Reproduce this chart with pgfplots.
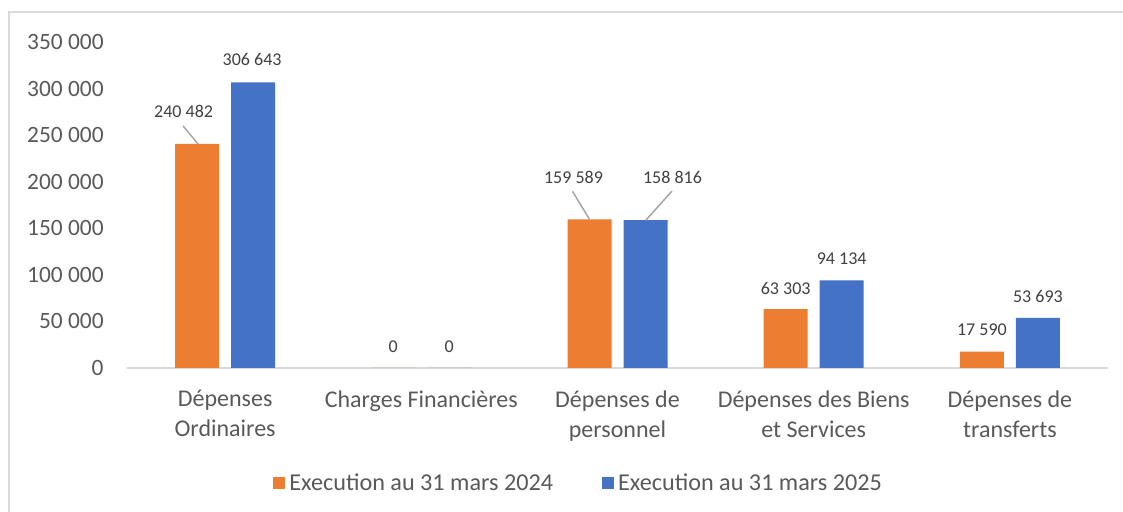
\documentclass[border=0pt]{standalone}
\usepackage{fontspec}
\setmainfont{Carlito}
\usepackage{pgfplots}
\usepackage{pgfplotstable}
\pgfplotsset{compat=1.18}
\definecolor{corange}{HTML}{ED7D31}
\definecolor{cblue}{HTML}{4472C4}
\definecolor{ctext}{HTML}{595959}
\definecolor{clabel}{HTML}{404040}
\definecolor{caxis}{HTML}{D9D9D9}
\definecolor{clead}{HTML}{A6A6A6}

% x = category index, dx/dy = label offset from category centre at bar top (pt)
\pgfplotstableread{
x y dx dy
1 240482 -20.75 16.25
2 0 -14 10.5
3 159589 -22 21.2
4 63303 -14 10.5
5 17590 -14 10.8
}\orangedata
\pgfplotstableread{
x y dx dy
1 306643 13.5 11.2
2 0 14 10.5
3 158816 27.5 21.5
4 94134 14 10.6
5 53693 14 10.5
}\bluedata

\begin{document}
\begin{tikzpicture}
\useasboundingbox (0,0) rectangle (561.5pt,256pt);
\draw[caxis,line width=1pt] (4.5pt,0) -- (4.5pt,250pt) -- (561.5pt,250pt);
\begin{axis}[at={(63.5pt,72pt)},anchor=south west,scale only axis,
  width=490.5pt,height=163pt,
  xmin=0.5,xmax=5.5,ymin=0,ymax=350000,
  xtick={1,2,3,4,5},
  xticklabels={{Dépenses\\Ordinaires},{Charges Financières},{Dépenses de\\personnel},{Dépenses des Biens\\et Services},{Dépenses de\\transferts}},
  ytick={0,50000,...,350000},
  scaled y ticks=false,
  axis lines=left,axis line style={-},
  y axis line style={draw=none},
  x axis line style={draw=caxis,line width=1pt},
  major tick length=0pt,
  /pgf/number format/assume math mode=true,
  yticklabel style={/pgf/number format/.cd,fixed,1000 sep={\ },/tikz/.cd,
    font=\fontsize{11.7}{14}\selectfont,text=ctext,inner sep=0pt,xshift=-11.5pt},
  xticklabel style={align=center,font=\fontsize{12}{15}\selectfont,text=ctext,
    inner sep=0pt,yshift=-11pt},
  legend style={at={(axis description cs:0.1488,-0.354)},anchor=west,
    draw=none,fill=none,inner sep=0pt,font=\fontsize{12.1}{14}\selectfont,text=ctext,
    /tikz/every even column/.append style={column sep=22.5pt}},
  legend columns=2,
  legend image code/.code={\fill[#1] (0pt,-3pt) rectangle (6pt,3pt);},
  nodes near coords={\pgfmathprintnumber[fixed,1000 sep={\ },assume math mode=true]{\pgfplotspointmeta}},
  point meta=y,
  every node near coord/.append style={font=\fontsize{9}{11}\selectfont,text=clabel,
    anchor=center,inner sep=0pt,xshift=\dx pt,yshift=\dy pt},
  visualization depends on={\thisrow{dx} \as \dx},
  visualization depends on={\thisrow{dy} \as \dy},
]
\addplot[ybar,bar width=22pt,bar shift=-14pt,fill=corange,draw=none]
  table[x=x,y=y] {\orangedata};
\addplot[ybar,bar width=22pt,bar shift=14pt,fill=cblue,draw=none]
  table[x=x,y=y] {\bluedata};
\legend{Execution au 31 mars 2024,Execution au 31 mars 2025}
% leader lines of the moved labels
\draw[clead,line width=0.75pt] ([xshift=-13.5pt]axis cs:1,240482) -- ++(-7.5pt,9pt);
\draw[clead,line width=0.75pt] ([xshift=-14pt]axis cs:3,159589) -- ++(-8.5pt,14pt);
\draw[clead,line width=0.75pt] ([xshift=14.25pt]axis cs:3,158816) -- ++(13pt,14.5pt);
\end{axis}
\end{tikzpicture}
\end{document}
